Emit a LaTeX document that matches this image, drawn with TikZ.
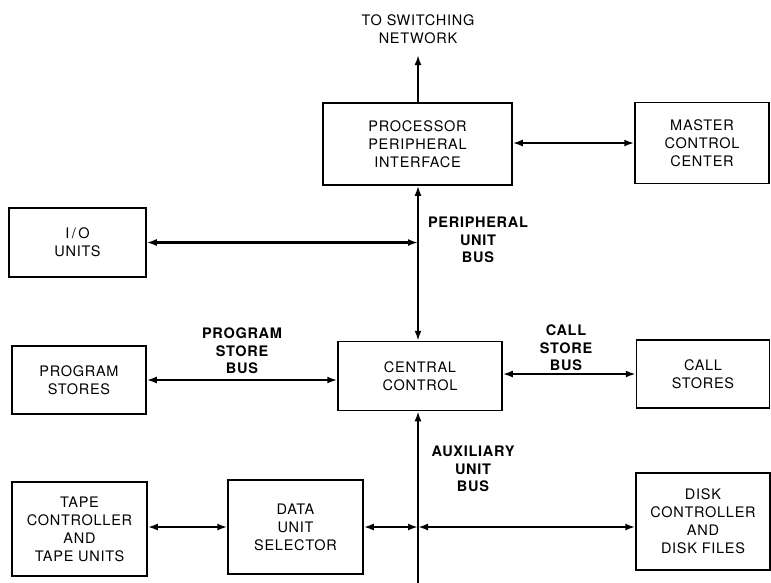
\documentclass[tikz,border=0pt]{standalone}
\usepackage{fontspec}
\setmainfont{TeX Gyre Heros}[LetterSpace=5]
\usetikzlibrary{arrows.meta}

\begin{document}
\begin{tikzpicture}[x=1pt, y=-1pt,
    unitbox/.style={draw, rectangle, line width=1.5pt, align=center, inner sep=0pt,
        font=\fontsize{14.5}{18}\selectfont},
    buslabel/.style={align=center, font=\fontsize{14.5}{17.5}\selectfont\bfseries},
    plain/.style={align=center, font=\fontsize{14.5}{17.5}\selectfont},
    bus/.style={line width=2.4pt},
    tip/.tip={Latex[length=10pt,width=7pt]}]
    \useasboundingbox (0,0) rectangle (771,582);

    % Boxes
    \node[unitbox, minimum width=189pt, minimum height=82pt] at (417.5,144) (ppi) {PROCESSOR\\PERIPHERAL\\INTERFACE};
    \node[unitbox, minimum width=134pt, minimum height=81pt] at (702,143) (mcc) {MASTER\\CONTROL\\CENTER};
    \node[unitbox, minimum width=137pt, minimum height=69pt] at (77.5,242.5) (io) {I\,/\,O\\UNITS};
    \node[unitbox, minimum width=134pt, minimum height=68pt] at (79,380) (ps) {PROGRAM\\STORES};
    \node[unitbox, minimum width=164pt, minimum height=69pt] at (420,376) (cc) {CENTRAL\\CONTROL};
    \node[unitbox, minimum width=133pt, minimum height=68pt] at (703,374) (cs) {CALL\\STORES};
    \node[unitbox, minimum width=135pt, minimum height=94pt] at (79.5,529) (tape) {TAPE\\CONTROLLER\\AND\\TAPE UNITS};
    \node[unitbox, minimum width=135pt, minimum height=94pt] at (295.5,527) (dus) {DATA\\UNIT\\SELECTOR};
    \node[unitbox, minimum width=134pt, minimum height=97pt] at (703,521.5) (disk) {DISK\\CONTROLLER\\AND\\DISK FILES};

    % Labels
    \node[plain] at (418,29) (net) {TO SWITCHING\\NETWORK};
    \node[buslabel] at (478,240) (pub) {PERIPHERAL\\UNIT\\BUS};
    \node[buslabel] at (242,351) (psb) {PROGRAM\\STORE\\BUS};
    \node[buslabel] at (566,348) (csb) {CALL\\STORE\\BUS};
    \node[buslabel] at (473,469) (aub) {AUXILIARY\\UNIT\\BUS};

    % Bus points
    \coordinate (bus) at (418,0);
    \coordinate (nettip) at (418,55);
    \coordinate (busend) at (418,590);
    \coordinate (aux) at (dus.east -| bus);

    % Arrows
    \draw[bus, -tip] (ppi.north -| bus) -- (nettip);
    \draw[bus, tip-tip] (ppi.south -| bus) -- (cc.north -| bus);
    \draw[bus, tip-tip] (ppi.east |- mcc) -- (mcc.west);
    \draw[bus, tip-tip] (io.east) -- (io.east -| bus);
    \draw[bus, tip-tip] (ps.east) -- (ps.east -| cc.west);
    \draw[bus, tip-tip] (cc.east |- cs) -- (cs.west);
    \draw[bus, -tip] (busend) -- (cc.south -| bus);
    \draw[bus, tip-tip] (tape.east |- dus) -- (dus.west);
    \draw[bus, tip-tip] (dus.east) -- (aux);
    \draw[bus, tip-tip] (aux) -- (aux -| disk.west);
\end{tikzpicture}
\end{document}
